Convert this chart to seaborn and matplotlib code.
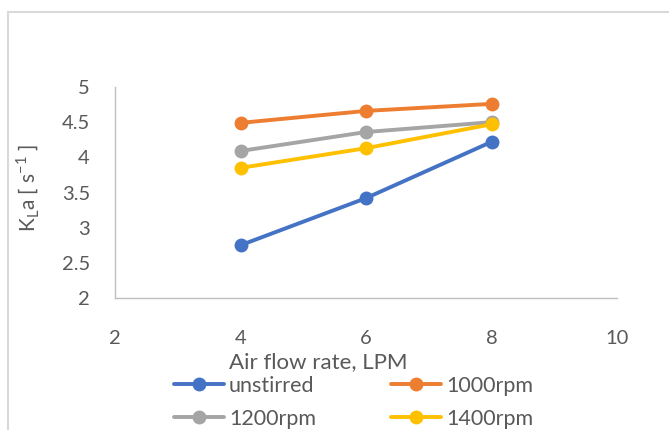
import matplotlib
matplotlib.use("Agg")
import matplotlib.pyplot as plt
import seaborn as sns
import pandas as pd
from matplotlib.lines import Line2D

flow = [4, 6, 8]
unstirred = [2.75, 3.42, 4.22]
rpm1000 = [4.49, 4.66, 4.76]
rpm1200 = [4.09, 4.36, 4.50]
rpm1400 = [3.85, 4.13, 4.47]
series_names = ["unstirred", "1000rpm", "1200rpm", "1400rpm"]
colors = ["#4472C4", "#ED7D31", "#A5A5A5", "#FFC000"]
xticks = [2, 4, 6, 8, 10]
yticks = [2, 2.5, 3, 3.5, 4, 4.5, 5]

rows = []
for name, vals in zip(series_names, [unstirred, rpm1000, rpm1200, rpm1400]):
    for x, y in zip(flow, vals):
        rows.append({"flow": x, "kla": y, "series": name})
df = pd.DataFrame(rows)

sns.set_style("white")
plt.rcParams["font.family"] = ["Lato", "DejaVu Sans"]
txt = "#595959"

fig = plt.figure(figsize=(6.69, 4.30), dpi=100)
ax = fig.add_axes([115/669, 1-298/430, (617-115)/669, (298-87)/430])

sns.lineplot(data=df, x="flow", y="kla", hue="series", hue_order=series_names,
             palette=colors, marker="o", markersize=10, linewidth=2.8,
             markeredgewidth=0, ax=ax, legend=False)

ax.set_xlim(2, 10)
ax.set_ylim(2, 5)
ax.set_xticks(xticks)
ax.set_xticklabels([str(t) for t in xticks])
ax.set_yticks(yticks)
ax.set_yticklabels([f"{t:g}" for t in yticks])
for s in ["top", "right"]:
    ax.spines[s].set_visible(False)
for s in ["left", "bottom"]:
    ax.spines[s].set_color("#BFBFBF")
    ax.spines[s].set_linewidth(1.0)
ax.tick_params(axis="x", direction="out", length=6, color="#BFBFBF", width=1,
               labelsize=14.5, labelcolor=txt, pad=17)
ax.tick_params(axis="y", length=0, labelsize=14.5, labelcolor=txt, pad=18)

ax.set_xlabel("Air flow rate, LPM", fontsize=16, color=txt)
ax.xaxis.set_label_coords((318-115)/(617-115), -0.258)
ax.set_ylabel(r"K$_\mathregular{L}$a [ s$^\mathregular{-1}$ ]", fontsize=15, color=txt)
ax.yaxis.set_label_coords(-0.145, 0.52)

handles = [Line2D([0], [0], color=c, lw=2.8, marker="o", markersize=10, markeredgewidth=0)
           for c in colors]
# order so that rows read: unstirred, 1000rpm / 1200rpm, 1400rpm
order = [0, 2, 1, 3]
fig.legend([handles[i] for i in order], [series_names[i] for i in order], ncol=2,
           loc="upper left", bbox_to_anchor=(174/669, 1-376/430), frameon=False,
           fontsize=15.5, handlelength=2.3, handletextpad=0.25, columnspacing=3.5,
           labelspacing=0.6, labelcolor=txt, borderaxespad=0, borderpad=0)

# outer chart frame (partially visible)
fig.add_artist(Line2D([8/669, 1], [1-12/430, 1-12/430], color="#D9D9D9", lw=1.5,
                      transform=fig.transFigure))
fig.add_artist(Line2D([8/669, 8/669], [0, 1-12/430], color="#D9D9D9", lw=1.5,
                      transform=fig.transFigure))

fig.savefig("out.png", dpi=100)
